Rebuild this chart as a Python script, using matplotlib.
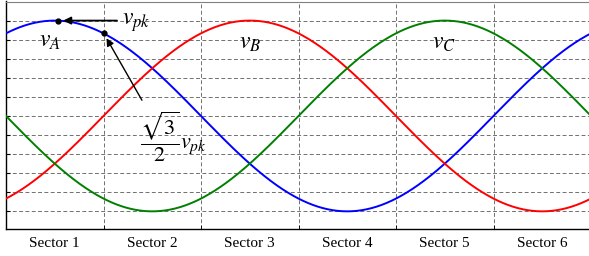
import numpy as np
import matplotlib
matplotlib.use("Agg")
import matplotlib.pyplot as plt

# electrical angle (deg) and per-unit phase voltages
theta = np.linspace(-30, 330, 721)
phase_shift = {"A": 0, "B": 120, "C": -120}
phase_color = {"A": "#0000ff", "B": "#ff0000", "C": "#008000"}
label_pos = {"A": (-3, 0.80), "B": (120, 0.78), "C": (239.5, 0.78)}

sector_names = ["Sector 1", "Sector 2", "Sector 3", "Sector 4", "Sector 5", "Sector 6"]
sector_edges = [-30, 30, 90, 150, 210, 270, 330]
grid_levels = [-1.0, -0.8, -0.6, -0.4, -0.2, 0.0, 0.2, 0.4, 0.6, 0.8, 1.0]

plt.rcParams["mathtext.fontset"] = "stix"

fig = plt.figure(figsize=(5.89, 2.56), dpi=100)
ax = fig.add_axes([6 / 589, 1 - 229 / 256, 585 / 589, 227.5 / 256])

for ph in ["A", "B", "C"]:
    v = np.cos(np.radians(theta - phase_shift[ph]))
    ax.plot(theta, v, color=phase_color[ph], lw=1.4, zorder=3)
    x, y = label_pos[ph]
    ax.text(x, y, r"$v_{%s}$" % ph, fontsize=17, ha="center", va="center", zorder=4)

ax.set_xlim(sector_edges[0], sector_edges[-1])
ax.set_ylim(-1.185, 1.2)

# sector names centred, sector borders as minor ticks with dashed grid
centers = [(a + b) / 2 for a, b in zip(sector_edges[:-1], sector_edges[1:])]
ax.set_xticks(centers)
ax.set_xticklabels(sector_names, fontfamily="Liberation Serif", fontsize=11)
ax.set_xticks(sector_edges[1:-1], minor=True)
ax.tick_params(axis="x", which="major", length=0, pad=6)
ax.tick_params(axis="x", which="minor", length=3, direction="in")
ax.set_yticks(grid_levels)
ax.set_yticklabels([])
ax.tick_params(axis="y", length=3, direction="in")
ax.grid(True, axis="y", which="major", ls=(0, (4, 2.5)), color="#707070", lw=0.7)
ax.grid(True, axis="x", which="minor", ls=(0, (4, 2.5)), color="#707070", lw=0.7)

ax.spines["right"].set_visible(False)
ax.spines["top"].set_color("#808080")
ax.spines["left"].set_linewidth(1.0)
ax.spines["bottom"].set_linewidth(1.0)

# peak and sqrt(3)/2 peak markers
ax.plot([2, 30], [1.0, np.cos(np.radians(30))], "o", color="black", ms=3.5, zorder=5)
ax.annotate("", xy=(3.5, 1.0), xytext=(40, 1.0),
            arrowprops=dict(arrowstyle="-|>", color="black", lw=1.3, mutation_scale=11), zorder=5)
ax.text(41.5, 0.99, r"$v_{pk}$", fontsize=17, ha="left", va="center", zorder=5)
ax.annotate("", xy=(31, 0.84), xytext=(54.5, 0.14),
            arrowprops=dict(arrowstyle="-|>", color="black", lw=1.0, mutation_scale=11), zorder=5)
ax.text(52.5, -0.22, r"$\dfrac{\sqrt{3}}{2}v_{pk}$", fontsize=16, ha="left", va="center", zorder=5)

fig.savefig("out.png", dpi=100)
